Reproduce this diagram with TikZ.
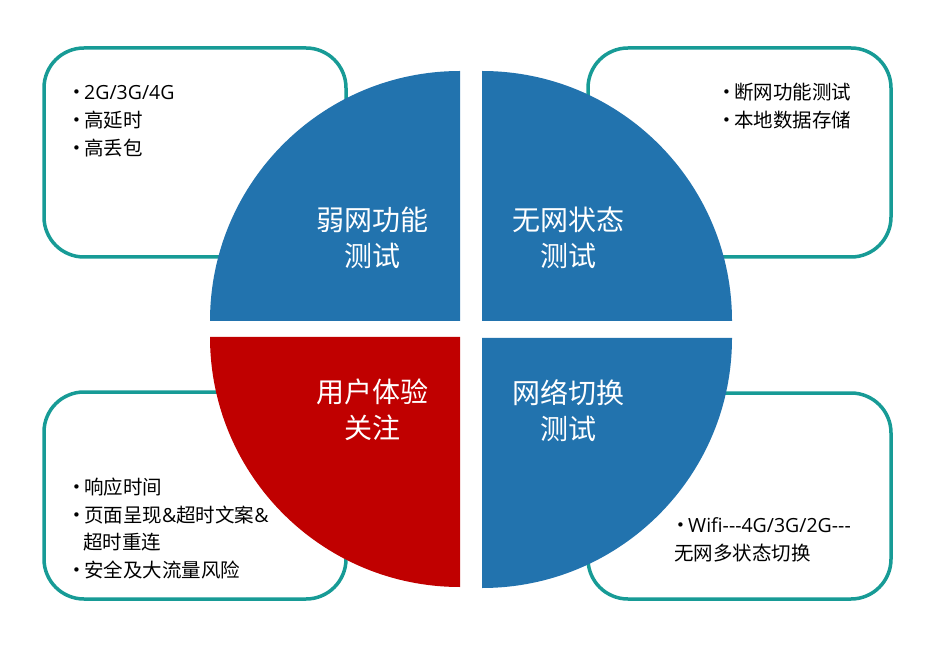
\documentclass[tikz,border=0pt]{standalone}
\usepackage{fontspec}
\newfontfamily\cjk{Noto Sans CJK SC}
\newfontfamily\lat{Open Sans}
\newfontfamily\bulfont{DejaVu Sans}
\definecolor{qblue}{HTML}{2273AE}
\definecolor{qred}{HTML}{C00000}
\definecolor{teal2}{HTML}{179B96}
\newcommand{\bul}{\makebox[12pt][l]{\raisebox{1.8pt}{\bulfont\fontsize{15}{15}\selectfont •}}}
\begin{document}
\begin{tikzpicture}[x=1pt,y=1pt,
  infobox/.style={draw=teal2,line width=3.5pt,fill=white,rounded corners=40pt,inner sep=0pt},
  qtitle/.style={font=\cjk\fontsize{28}{36}\selectfont,text=white,align=center,inner sep=0pt},
  item/.style={font=\cjk\fontsize{19.5}{28}\selectfont,text=black,anchor=west,inner sep=0pt,text height=17.2pt,text depth=2.3pt}]
\useasboundingbox (0,0) rectangle (942,646);
% background boxes
\node[infobox,minimum width=302pt,minimum height=209pt] (b1) at (195,493.5) {};
\node[infobox,minimum width=303pt,minimum height=209pt] (b2) at (739.5,493.5) {};
\node[infobox,minimum width=302pt,minimum height=207pt] (b3) at (195,150.5) {};
\node[infobox,minimum width=303pt,minimum height=206pt] (b4) at (739.5,150) {};
% quadrants
\fill[qblue] (460,325) -- (210,325) arc[start angle=180,end angle=90,radius=250pt] -- cycle;
\fill[qblue] (482,325) -- (482,575) arc[start angle=90,end angle=0,radius=250pt] -- cycle;
\fill[qred] (460,309) -- (210,309) arc[start angle=180,end angle=270,radius=250pt] -- cycle;
\fill[qblue] (482,308) -- (732,308) arc[start angle=0,end angle=-90,radius=250pt] -- cycle;
% titles
\node[qtitle] (q1) at (372,408) {弱网功能\\测试};
\node[qtitle] (q2) at (568,408) {无网状态\\测试};
\node[qtitle] (q3) at (372,236) {用户体验\\关注};
\node[qtitle] (q4) at (568,235) {网络切换\\测试};
% box texts
\node[item] (t1a) at (72,554) {\bul{\lat 2G/3G/4G}};
\node[item] (t1b) at (72,526) {\bul 高延时};
\node[item] (t1c) at (72,498) {\bul 高丢包};
\node[item] (t2a) at (722,554) {\bul 断网功能测试};
\node[item] (t2b) at (722,526) {\bul 本地数据存储};
\node[item] (t3a) at (72,159) {\bul 响应时间};
\node[item] (t3b) at (72,131) {\bul 页面呈现{\lat\&}超时文案{\lat\&}};
\node[item] (t3c) at (83,104) {超时重连};
\node[item] (t3d) at (72,76) {\bul 安全及大流量风险};
\node[item] (t4a) at (676,121) {\bul{\lat Wifi---4G/3G/2G---}};
\node[item] (t4b) at (674,93) {无网多状态切换};
\end{tikzpicture}
\end{document}
